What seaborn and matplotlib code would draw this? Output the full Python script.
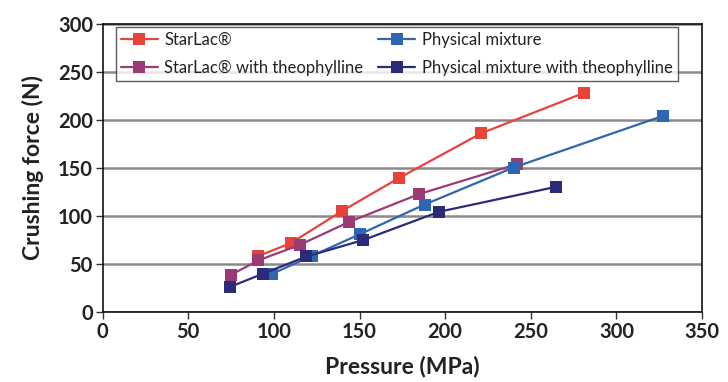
import matplotlib
matplotlib.use("Agg")
import matplotlib.pyplot as plt
import seaborn as sns
import pandas as pd

# ---- data ----
series_names = ["StarLac®", "StarLac® with theophylline",
                "Physical mixture", "Physical mixture with theophylline"]
starlac_x = [91, 110, 140, 173, 221, 281]
starlac_y = [58.5, 72, 105.5, 139.5, 186, 228]
starlac_theo_x = [75, 91, 115, 144, 185, 242]
starlac_theo_y = [39, 54, 70, 94, 123, 154]
phys_x = [99, 122, 150, 188, 240, 327]
phys_y = [40, 58.5, 81, 112, 150.5, 204]
phys_theo_x = [74.5, 93.5, 119, 152, 196.5, 265]
phys_theo_y = [26.5, 40, 58, 75, 104.5, 130.5]
x_ticks = [0, 50, 100, 150, 200, 250, 300, 350]
y_ticks = [0, 50, 100, 150, 200, 250, 300]

colors = ["#E8433A", "#9B3B76", "#2E66B2", "#2B2B7A"]

xs = [starlac_x, starlac_theo_x, phys_x, phys_theo_x]
ys = [starlac_y, starlac_theo_y, phys_y, phys_theo_y]
rows = []
for name, xv, yv in zip(series_names, xs, ys):
    for i, (a, b) in enumerate(zip(xv, yv)):
        rows.append({"series": name, "Pressure": a, "Force": b, "order": i})
df = pd.DataFrame(rows)

sns.set_theme(style="white")
plt.rcParams["font.family"] = ["Lato", "DejaVu Sans"]

fig = plt.figure(figsize=(7.28, 3.82), dpi=100)
ax = fig.add_axes([0.141, 0.1825, 0.8233, 0.7555])

sns.lineplot(data=df, x="Pressure", y="Force", hue="series",
             hue_order=series_names, palette=colors, style="series",
             style_order=series_names, markers=["s"] * 4, dashes=False,
             sort=False, estimator=None, markersize=8.5, markeredgewidth=0,
             linewidth=1.6, ax=ax, zorder=3)

ax.set_xlim(0, 350)
ax.set_ylim(0, 300)
ax.set_xticks(x_ticks)
ax.set_yticks(y_ticks)
ax.set_xticklabels([str(t) for t in x_ticks], fontsize=14.5, fontweight="bold", color="#222222")
ax.set_yticklabels([str(t) for t in y_ticks], fontsize=14.5, fontweight="bold", color="#222222")
ax.tick_params(axis="both", direction="out", length=5, width=1, color="#333333",
               bottom=True, left=True, pad=2)
ax.yaxis.grid(True, color="#8a8a8a", linewidth=1.8, zorder=0)
ax.xaxis.grid(False)
ax.set_axisbelow(True)
for s in ax.spines.values():
    s.set_visible(True)
    s.set_color("#111111")
    s.set_linewidth(1.2)

ax.set_xlabel("Pressure (MPa)", fontsize=16.5, fontweight="bold", color="#222222", labelpad=10)
ax.set_ylabel("Crushing force (N)", fontsize=16.5, fontweight="bold", color="#222222", labelpad=10)

handles, labels = ax.get_legend_handles_labels()
leg = ax.legend(handles, labels, ncol=2, loc="upper left",
                bbox_to_anchor=(0.022, 0.9875),
                frameon=True, fancybox=False, edgecolor="#333333",
                fontsize=12, handlelength=2.2, borderaxespad=0,
                labelspacing=0.7, columnspacing=0.9, handletextpad=0.4,
                borderpad=0.3)
leg.get_frame().set_linewidth(1.0)
leg.set_zorder(5)
for t in leg.get_texts():
    t.set_color("#222222")

fig.savefig("out.png", dpi=100)
